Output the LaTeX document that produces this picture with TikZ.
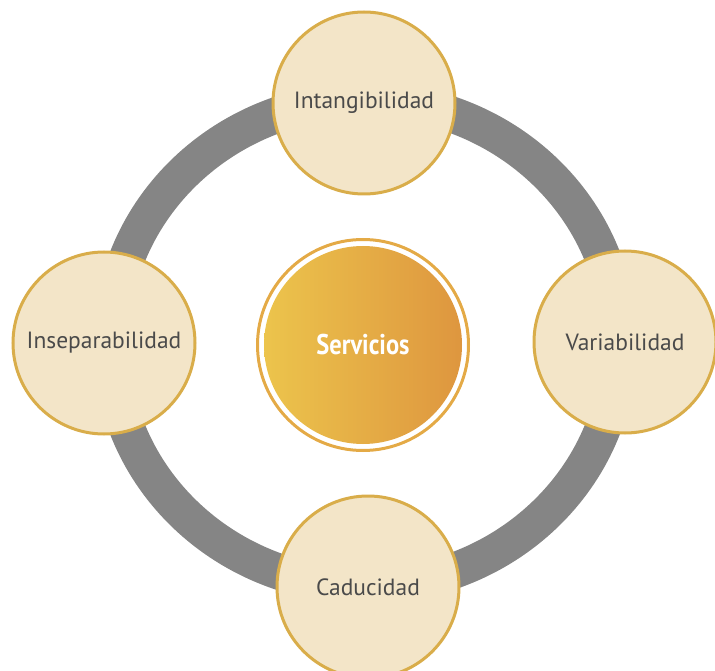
\documentclass[tikz,border=0pt]{standalone}
\usepackage{fontspec}
\setmainfont{PT Sans}
\newfontfamily\condfont[FakeStretch=0.86]{PT Sans}
\usepackage{xcolor}
\definecolor{cream}{HTML}{F3E5C8}
\definecolor{gold}{HTML}{D9AD4A}
\definecolor{ringgray}{HTML}{858585}
\definecolor{textgray}{HTML}{4A4A4A}
\definecolor{sunny}{HTML}{ECC44C}
\definecolor{amber}{HTML}{DE963F}
\definecolor{rim}{HTML}{E4AA46}
\usetikzlibrary{positioning}
\tikzset{
    x=1pt, y=-1pt,
    trait/.style = {circle, draw=gold, fill=cream, line width=3pt, minimum size=182pt, inner sep=0pt, text=textgray, font=\fontsize{23.5}{26}\selectfont},
    core/.style = {circle, left color=sunny, right color=amber, minimum size=198pt, inner sep=0pt, text=white, font=\condfont\bfseries\fontsize{28.5}{31}\selectfont},
    rimline/.style = {circle, draw=rim, line width=3pt, minimum size=211pt},
    band/.style = {draw=ringgray, line width=36pt}
}
\begin{document}
\begin{tikzpicture}
  \useasboundingbox (0,0) rectangle (715,671);
  \coordinate (mid) at (365,343);
  \draw[band] (mid) ellipse [x radius=254, y radius=243];

  \node[rimline] (rim) at (363,345) {};
  \node[core] (serv) at (rim) {Servicios};

  \node[trait] (intang) at (364,103) {Intangibilidad};
  \node[trait] (insep) at (104,343) {Inseparabilidad};
  \node[trait] (variab) at (625,342) {Variabilidad};
  \node[trait] (caduc) at (368,587) {Caducidad};
\end{tikzpicture}
\end{document}
